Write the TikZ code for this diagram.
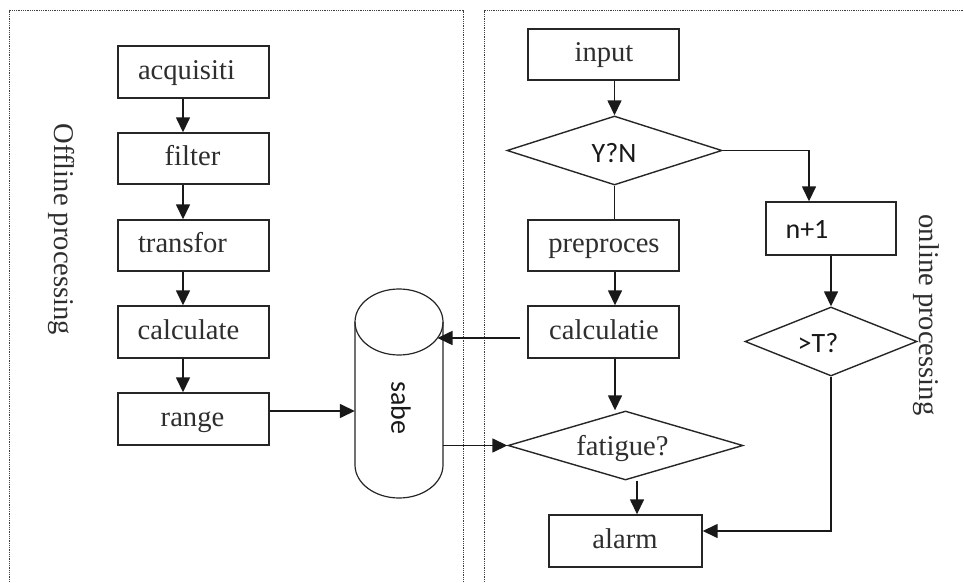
\documentclass[tikz,border=0pt]{standalone}
\usepackage{fontspec}
\setmainfont{Liberation Serif}
\newfontfamily\sansf{Carlito}
\usetikzlibrary{arrows.meta,shapes.geometric,calc}
\begin{document}
\begin{tikzpicture}[x=1pt,y=-1pt,
  shapebox/.style={draw=black!85, line width=1.4pt, rectangle, inner sep=0pt},
  dia/.style={draw=black!85, line width=1.4pt, diamond, inner sep=0pt},
  txt/.style={font=\fontsize{28.6}{31}\selectfont, text=black!82, inner sep=0pt, anchor=base},
  stxt/.style={font=\sansf\fontsize{28}{31}\selectfont, text=black!90, inner sep=0pt, anchor=base},
  arr/.style={draw=black!90, line width=1.5pt, -{Triangle[length=15pt,width=14pt]}},
  ln/.style={draw=black!90, line width=1.5pt},
  frame/.style={draw=black!75, line width=1pt, dash pattern=on 1pt off 0.8pt}]
\useasboundingbox (0,0) rectangle (964,583);
\clip (0,0) rectangle (964,583);
\fill[white] (0,0) rectangle (964,583);

% dotted frames
\draw[frame] (9,600) -- (9,11) -- (463,11) -- (463,600);
\draw[frame] (484,600) -- (484,11) -- (980,11);

% offline boxes
\node[shapebox, minimum width=151pt, minimum height=52pt] (acq) at (193.5,72) {};
\node[shapebox, minimum width=151pt, minimum height=51pt] (fil) at (193.5,158.5) {};
\node[shapebox, minimum width=151pt, minimum height=51pt] (tra) at (193.5,245.5) {};
\node[shapebox, minimum width=151pt, minimum height=52pt] (cal) at (193.5,332) {};
\node[shapebox, minimum width=151pt, minimum height=52pt] (ran) at (193.5,419) {};

\node[txt] (tacq) at (186.5,79.5) {acquisiti};
\node[txt] (tfil) at (192.5,166) {filter};
\node[txt] (ttra) at (182.5,252.7) {transfor};
\node[txt] (tcal) at (188.5,339) {calculate};
\node[txt] (tran) at (192.5,426.7) {range};

\node[txt, anchor=center, rotate=-90] (toff) at (61,229.5) {Offline processing};

% database cylinder
\node[inner sep=0pt, minimum width=88pt, minimum height=209pt] (sabe) at (399,393.5) {};
\draw[draw=black!85, line width=1.2pt]
  (355,322) -- (355,465)
  .. controls (355,483.2) and (374.7,498) .. (399,498)
  .. controls (423.3,498) and (443,483.2) .. (443,465)
  -- (443,322);
\draw[draw=black!85, line width=1.2pt] (399,322) ellipse [x radius=44, y radius=33];
\node[stxt, anchor=center, rotate=-90] (tsabe) at (401,408) {sabe};
\coordinate (sabein) at (437.5,338);

% online boxes
\node[shapebox, minimum width=151pt, minimum height=51pt] (inp) at (603.5,54.5) {};
\node[dia, minimum width=215pt, minimum height=69pt] (ynd) at (614.5,150.5) {};
\node[shapebox, minimum width=151pt, minimum height=51pt] (pre) at (603.5,245.5) {};
\node[shapebox, minimum width=151pt, minimum height=52pt] (clc) at (603.5,332) {};
\node[dia, minimum width=235pt, minimum height=69pt] (fat) at (625.5,445.5) {};
\node[shapebox, minimum width=153pt, minimum height=52pt] (alm) at (625.5,541) {};
\node[shapebox, minimum width=130pt, minimum height=53pt] (n1) at (831,228.5) {};
\node[dia, minimum width=172pt, minimum height=69pt] (td) at (831,341.5) {};

\node[txt] (tinp) at (604,61.7) {input};
\node[stxt] (tynd) at (614,162.7) {Y?N};
\node[txt] (tpre) at (604,252.5) {preproces};
\node[txt] (tclc) at (604,339) {calculatie};
\node[txt] (tfat) at (622.5,455) {fatigue?};
\node[txt] (talm) at (625,548) {alarm};
\node[stxt] (tn1) at (807,238) {n+1};
\node[stxt] (ttd) at (818,352.7) {>T?};

\node[txt, anchor=center, rotate=-90] (tonl) at (926,315) {online processing};

% offline connectors
\draw[arr] ([xshift=-10.5pt]acq.south) -- ([xshift=-10.5pt]fil.north);
\draw[arr] ([xshift=-10.5pt]fil.south) -- ([xshift=-10.5pt]tra.north);
\draw[arr] ([xshift=-10.5pt]tra.south) -- ([xshift=-10.5pt]cal.north);
\draw[arr] ([xshift=-10.5pt]cal.south) -- ([xshift=-10.5pt]ran.north);
\draw[arr] ([yshift=8pt]ran.east) -- ([yshift=8pt]ran.east -| sabe.west);

% online connectors
\draw[arr] ([xshift=11pt]inp.south) -- (ynd.north);
\draw[ln] (ynd.south) -- (ynd.south |- pre.north);
\draw[arr] (ynd.east) -| ([xshift=-22pt]n1.north);
\draw[arr] ([xshift=11.5pt]pre.south) -- ([xshift=11.5pt]clc.north);
\draw[arr] ([xshift=-7pt,yshift=-6pt]clc.west) -- (sabein);
\draw[arr] ([xshift=11.5pt]clc.south) -- ([xshift=11.5pt]clc.south |- fat.north);
\draw[arr] (sabe.east |- fat.west) -- (fat.west);
\draw[arr] ([xshift=11.5pt]alm.north |- fat.south) -- ([xshift=11.5pt]alm.north);
\draw[arr] (n1.south) -- (td.north);
\draw[arr] (td.south) |- ([yshift=10pt]alm.east);
\end{tikzpicture}
\end{document}
